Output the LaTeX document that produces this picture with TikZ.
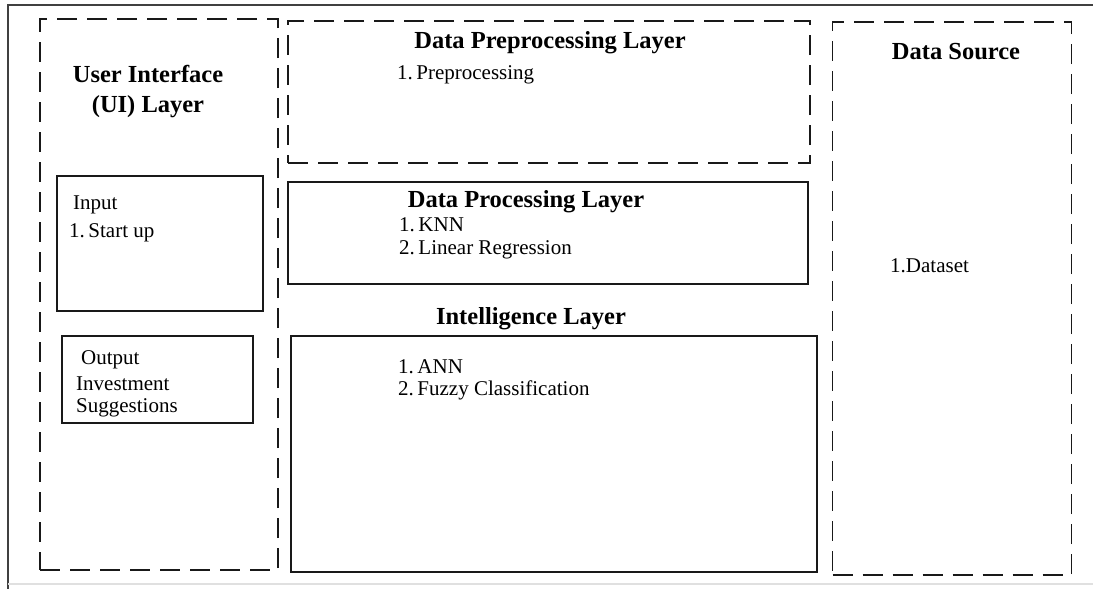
\documentclass[tikz,border=0pt]{standalone}
\usepackage{fontspec}
\setmainfont{Liberation Serif}
\begin{document}
\begin{tikzpicture}[x=1pt,y=-1pt,
  frame/.style={draw=black!75,line width=1.4pt},
  layerdash/.style={draw=black!90,line width=1.8pt,dash pattern=on 20pt off 10pt,
    rectangle,inner sep=0pt},
  layersolid/.style={draw=black!90,line width=1.4pt,rectangle,inner sep=0pt},
  heading/.style={font=\fontsize{24.5}{30}\selectfont\bfseries,inner sep=0pt,align=center},
  item/.style={font=\fontsize{21}{22.5}\selectfont,inner sep=0pt,anchor=west,align=left}]
  \useasboundingbox (0,0) rectangle (1093,589);

  % page frame
  \coordinate (ftr) at (1093,5);
  \coordinate (ftl) at (8,5);
  \coordinate (fbl) at (8,589);
  \draw[frame] (ftr) -- (ftl) -- (fbl);
  \coordinate (bl) at (8,584);
  \coordinate (br) at (1093,584);
  \draw[black!12,line width=1.2pt] (bl) -- (br);

  % layer boxes
  \node[layerdash,minimum width=238pt,minimum height=551pt] (ui) at (159,294.5) {};
  \node[layerdash,minimum width=522pt,minimum height=142pt] (prep) at (549,92) {};
  \node[layersolid,minimum width=520pt,minimum height=102pt] (proc) at (548,233) {};
  \node[layersolid,minimum width=526pt,minimum height=236pt] (intel) at (554,454) {};
  \node[layerdash,minimum width=239pt,minimum height=553pt] (src) at (952,298.5) {};
  \node[layersolid,minimum width=206pt,minimum height=135pt] (input) at (160,243.5) {};
  \node[layersolid,minimum width=191pt,minimum height=87pt] (output) at (157.5,379.5) {};

  % headings
  \node[heading] (uih) at (148,92) {User Interface\\(UI) Layer};
  \node[heading] (preph) at (550,43) {Data Preprocessing Layer};
  \node[heading] (proch) at (526,202) {Data Processing Layer};
  \node[heading] (intelh) at (531,319) {Intelligence Layer};
  \node[heading] (srch) at (956,52) {Data Source};

  % items
  \node[item] (inputt) at (73,205) {Input};
  \node[item] (startup) at (69,233) {1.\,Start up};
  \node[item] (outputt) at (81,360) {Output};
  \node[item] (invest) at (76,397) {Investment\\Suggestions};
  \node[item] (prep1) at (397,75) {1.\,Preprocessing};
  \node[item] (knn) at (399,225) {1.\,KNN};
  \node[item] (linreg) at (399,250) {2.\,Linear Regression};
  \node[item] (ann) at (398,367) {1.\,ANN};
  \node[item] (fuzzy) at (398,390) {2.\,Fuzzy Classification};
  \node[item] (dataset) at (890,266) {1.Dataset};
\end{tikzpicture}
\end{document}
